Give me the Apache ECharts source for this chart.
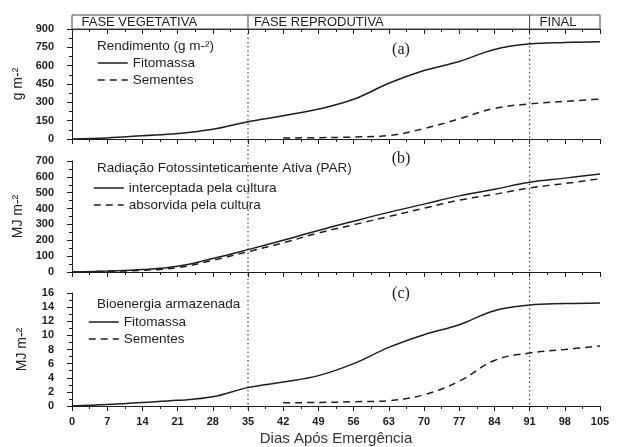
<!DOCTYPE html>
<html><head><meta charset="utf-8">
<script src="https://cdn.jsdelivr.net/npm/echarts@6/dist/echarts.min.js"></script>
<style>html,body{margin:0;padding:0;background:#fff}#c{width:622px;height:447px}</style>
</head><body><div id="c"></div>
<script>
// ---- data ----
const days = [0,7,14,21,28,35,42,49,56,63,70,77,84,91,98,105];
const rendFito = [0,9,27,45,80,142,190,245,325,456,560,634,733,778,790,796];
const rendSem  = [null,null,null,null,null,null,8,11,16,28,85,165,250,287,308,327];
const parInt   = [0,6,15,36,85,141,200,262,320,376,428,480,522,566,592,618];
const parAbs   = [0,4,11,27,74,128,184,246,298,350,402,453,490,530,558,588];
const bioFito  = [0,0.2,0.5,0.8,1.3,2.6,3.4,4.3,6.0,8.3,10.1,11.5,13.5,14.3,14.5,14.6];
const bioSem   = [null,null,null,null,null,null,0.45,0.5,0.6,0.75,1.6,3.5,6.45,7.5,8.0,8.5];
const xTicks  = [0,7,14,21,28,35,42,49,56,63,70,77,84,91,98,105];
const yTicksA = [0,150,300,450,600,750,900];
const yTicksB = [0,100,200,300,400,500,600,700];
const yTicksC = [0,2,4,6,8,10,12,14,16];
const phases = [{name:'FASE VEGETATIVA', from:0}, {name:'FASE REPRODUTIVA', from:35}, {name:'FINAL', from:91}];
const phaseBounds = [35, 91];
const panelTitles = ['Rendimento (g m-²)', 'Radiação Fotossinteticamente Ativa (PAR)', 'Bioenergia armazenada'];
const panelTags = ['(a)', '(b)', '(c)'];

const pairs = arr => days.map((d,i) => [d, arr[i]]);
const INK = '#1e1e1e';
const FONT = 'Liberation Sans, Arial, sans-serif';

const grids = [
  {left:72, right:22, top:29, height:110},
  {left:72, right:22, top:161, height:111},
  {left:72, right:22, top:293, height:113}
];

function xAx(gi, opts) {
  return Object.assign({
    type:'value', gridIndex:gi, min:xTicks[0], max:xTicks[xTicks.length-1], interval:xTicks[1]-xTicks[0],
    axisLine:{show:true, onZero:false, lineStyle:{color:INK, width:1}},
    axisTick:{show:true, inside:false, length:5, lineStyle:{color:INK, width:1}},
    minorTick:{show:true, splitNumber:2, length:3, lineStyle:{color:INK, width:1}},
    axisLabel:{show:false},
    splitLine:{show:false}
  }, opts);
}
function yAx(gi, ticks, name, gap) {
  return {
    type:'value', gridIndex:gi, min:ticks[0], max:ticks[ticks.length-1], interval:ticks[1]-ticks[0],
    name:name, nameLocation:'middle', nameGap:gap, nameRotate:90,
    nameTextStyle:{fontFamily:FONT, fontSize:14, color:INK},
    axisLine:{show:true, onZero:false, lineStyle:{color:INK, width:1}},
    axisTick:{show:true, inside:false, length:5, lineStyle:{color:INK, width:1}},
    minorTick:{show:true, splitNumber:2, length:3, lineStyle:{color:INK, width:1}},
    axisLabel:{show:true, margin:18, fontFamily:FONT, fontSize:11, fontWeight:'bold', color:INK},
    splitLine:{show:false}
  };
}
function line(name, data, xi, yi, dashed) {
  return {
    type:'line', name:name, data:pairs(data), xAxisIndex:xi, yAxisIndex:yi,
    symbol:'none', smooth:0.4, connectNulls:false,
    lineStyle:{color:INK, width:1.5, type: dashed ? [7,5] : 'solid'},
    itemStyle:{color:INK},
    emphasis:{disabled:true}, animation:false
  };
}
function legend(left, top, names) {
  return {
    orient:'vertical', left:left, top:top, itemWidth:30, itemHeight:14, itemGap:3,
    selectedMode:false, data:names,
    itemStyle:{color:'rgba(0,0,0,0)', borderWidth:0, opacity:0},
    lineStyle:{width:1.5},
    textStyle:{fontFamily:FONT, fontSize:13.5, color:INK}
  };
}

const option = {
  animation:false,
  backgroundColor:'#fff',
  grid: grids,
  xAxis: [
    xAx(0, {}),
    xAx(0, {position:'top', axisTick:{show:true, inside:true, length:5, lineStyle:{color:INK}},
            minorTick:{show:true, splitNumber:2, length:3, lineStyle:{color:INK}}}),
    xAx(1, {}),
    xAx(2, {axisLabel:{show:true, margin:10, fontFamily:FONT, fontSize:11, fontWeight:'bold', color:INK},
            name:'Dias Após Emergência', nameLocation:'middle', nameGap:25,
            nameTextStyle:{fontFamily:FONT, fontSize:15, color:'#333'}})
  ],
  yAxis: [
    yAx(0, yTicksA, 'g m-²', 45),
    yAx(1, yTicksB, 'MJ m-²', 43),
    yAx(2, yTicksC, 'MJ m-²', 43)
  ],
  legend: [
    legend(92, 51, ['Fitomassa','Sementes']),
    legend(88, 176, ['interceptada pela cultura','absorvida pela cultura']),
    legend(83, 310, ['Fitomassa','Sementes'])
  ],
  series: [
    line('Fitomassa', rendFito, 0, 0, false),
    line('Sementes', rendSem, 0, 0, true),
    line('interceptada pela cultura', parInt, 2, 1, false),
    line('absorvida pela cultura', parAbs, 2, 1, true),
    line('Fitomassa', bioFito, 3, 2, false),
    line('Sementes', bioSem, 3, 2, true)
  ]
};

const chart = echarts.init(document.getElementById('c'));
chart.setOption(option);

const px = d => chart.convertToPixel({xAxisIndex:0}, d);
const topA = chart.convertToPixel({yAxisIndex:0}, yTicksA[yTicksA.length-1]);
const botC = chart.convertToPixel({yAxisIndex:2}, yTicksC[0]);
const topB = chart.convertToPixel({yAxisIndex:1}, yTicksB[yTicksB.length-1]);
const topC = chart.convertToPixel({yAxisIndex:2}, yTicksC[yTicksC.length-1]);
const hdrTop = topA - 14;
const x0 = px(xTicks[0]), x1 = px(xTicks[xTicks.length-1]);

const g = [];
// header box
g.push({type:'rect', shape:{x:x0, y:hdrTop, width:x1-x0, height:topA-hdrTop},
        style:{fill:'#fff', stroke:'#444', lineWidth:1}, z:10});
phaseBounds.forEach(d => {
  g.push({type:'line', shape:{x1:px(d), y1:hdrTop, x2:px(d), y2:topA}, style:{stroke:'#444', lineWidth:1}, z:11});
  g.push({type:'line', shape:{x1:px(d), y1:topA, x2:px(d), y2:botC+4},
          style:{stroke:'#333', lineWidth:1.2, lineDash:[1.3,3]}, z:5});
});
const phaseOffsets = [9.5, 6, 10];
phases.forEach((p,i) => {
  g.push({type:'text', x:px(p.from)+phaseOffsets[i], y:(hdrTop+topA)/2+0.5,
          style:{text:p.name, fontFamily:FONT, fontSize:13, fill:INK, verticalAlign:'middle', align:'left'}, z:12});
});
// panel titles
const titleY = [topA+17.5, topB+7.5, topC+11];
panelTitles.forEach((t,i) => {
  g.push({type:'text', x:97, y:titleY[i],
          style:{text:t, fontFamily:FONT, fontSize:13.5, fill:INK, verticalAlign:'middle', align:'left'}, z:12});
});
// panel tags
const tagY = [topA+21, topB-2, topC+0.5];
panelTags.forEach((t,i) => {
  g.push({type:'text', x:401, y:tagY[i],
          style:{text:t, fontFamily:'Liberation Serif, Times New Roman, serif', fontSize:16, fill:INK, verticalAlign:'middle', align:'center'}, z:12});
});
chart.setOption({graphic:g});
</script>
</body></html>
